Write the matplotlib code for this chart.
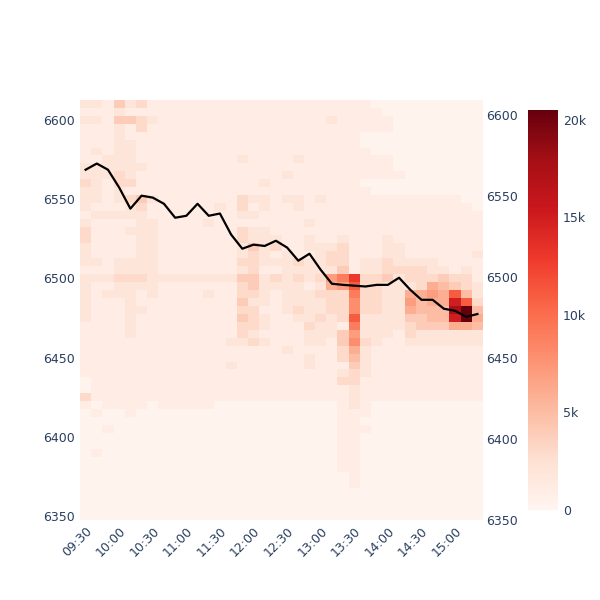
import numpy as np
import matplotlib
matplotlib.use("Agg")
import matplotlib.pyplot as plt

times = ["09:30","09:40","09:50","10:00","10:10","10:20","10:30","10:40","10:50","11:00","11:10","11:20",
         "11:30","11:40","11:50","12:00","12:10","12:20","12:30","12:40","12:50","13:00","13:10","13:20",
         "13:30","13:40","13:50","14:00","14:10","14:20","14:30","14:40","14:50","15:00","15:10","15:20"]
tick_labels = ["09:30","10:00","10:30","11:00","11:30","12:00","12:30","13:00","13:30","14:00","14:30","15:00"]
prices = list(range(6610, 6345, -5))  # row centres, top to bottom

close = [6566.0, 6569.8, 6566.0, 6555.0, 6542.0, 6550.0, 6548.8, 6545.0, 6536.4, 6537.6, 6545.0, 6537.6,
         6539.0, 6526.0, 6517.3, 6519.8, 6519.0, 6522.2, 6518.0, 6509.9, 6514.2, 6504.3, 6495.7, 6495.0,
         6494.5, 6494.0, 6495.0, 6495.0, 6499.4, 6492.0, 6485.8, 6485.8, 6480.3, 6479.0, 6475.3, 6477.0]

# volume codes per price row (top = 6610), one char per time column
code_map = {str(d): d * 1000 for d in range(10)}
code_map.update({"0": 300, "A": 11000, "B": 13000, "C": 15000, "D": 17500, "E": 20500})
rows = [
    "221423111111111111111111110000000000",
    "111211111111111111111111111000000000",
    "221443211111111111111121111100000000",
    "111213111111111111111111111100000000",
    "111211111111111111111111100000000000",
    "111221111111111111111111100000000000",
    "121221111111111111111111110000000000",
    "112221111111112111121111111100000000",
    "222222111111111111111111111100000000",
    "222321111111111111211111111110000000",
    "321331111111111121111111100000000000",
    "221211111111111111111111110000000000",
    "221234211111113221221211111111111100",
    "211123111111213121121111111111111110",
    "122222111111112211111111111111111111",
    "211112211112111111112111111111111111",
    "311122211111113221111111111111111111",
    "311112211111113222112112111211111111",
    "211112211111112423112223111221111111",
    "211112211111112321211233111221111112",
    "221222211111113322232233122322221111",
    "111222211111112311222224122333322121",
    "222333222222224423232379B33423334331",
    "211222211111113422221267A33222365432",
    "212221211112113321222333933226676A52",
    "211121111111114221222233833227566CA3",
    "211122111111113311232233833226555DE5",
    "211121111111114321122323A22224455CE6",
    "111121111111113321113221922223444665",
    "111121111111113211112224722213222222",
    "111111111111122321112214832112222222",
    "111111111111111111211113621111111111",
    "111111111111111111112113521111111111",
    "111111111111121111112111421111111111",
    "111111111111111111111112321111111111",
    "011111111111111111111113311111111111",
    "011111111111111111111111211111111111",
    "311111111111111111111111211111111111",
    "101111011111000000000001210000000000",
    "010010000000000000000001110000000000",
    "000000000000000000000001100000000000",
    "001000000000000000000001110000000000",
    "000000000000000000000001100000000000",
    "000000000000000000000001100000000000",
    "010000000000000000000001100000000000",
    "000000000000000000000001100000000000",
    "000000000000000000000001100000000000",
    "000000000000000000000000100000000000",
    "000000000000000000000000100000000000",
    "000000000000000000000000000000000000",
    "000000000000000000000000000000000000",
    "000000000000000000000000000000000000",
    "000000000000000000000000000000000000",
]
Z = np.array([[code_map[c] for c in r] for r in rows], dtype=float)

fig = plt.figure(figsize=(6, 6), dpi=100)
ax = fig.add_axes([80/600, 80/600, 403/600, 420/600])
xe = np.arange(len(times) + 1)
ye = np.array([prices[0] + 2.5] + [p - 2.5 for p in prices])
mesh = ax.pcolormesh(xe, ye, Z, cmap="Reds", vmin=0, vmax=20500, shading="flat")
ax.set_xlim(0, len(times))
ax.set_ylim(ye[-1], ye[0])
for s in ax.spines.values():
    s.set_visible(False)
tc = "#2a3f5f"
ax.set_yticks([6350, 6400, 6450, 6500, 6550, 6600])
ax.tick_params(axis="both", length=0, labelsize=9, labelcolor=tc)
ax.set_xticks([times.index(t) + 0.5 for t in tick_labels])
ax.set_xticklabels(tick_labels, rotation=45, ha="right", rotation_mode="anchor")

ax2 = ax.twinx()
ax2.plot(np.arange(len(close)) + 0.5, close, color="black", lw=1.6)
ax2.set_ylim(6350, 6609)
ax2.set_yticks([6350, 6400, 6450, 6500, 6550, 6600])
ax2.tick_params(axis="y", length=0, labelsize=9, labelcolor=tc, pad=2)
for s in ax2.spines.values():
    s.set_visible(False)

cax = fig.add_axes([528/600, 90/600, 30/600, 400/600])
cb = fig.colorbar(mesh, cax=cax)
cb.outline.set_visible(False)
cb.set_ticks([0, 5000, 10000, 15000, 20000])
cb.set_ticklabels(["0", "5k", "10k", "15k", "20k"])
cax.tick_params(length=0, labelsize=9, labelcolor=tc)

fig.savefig("out.png", dpi=100)
